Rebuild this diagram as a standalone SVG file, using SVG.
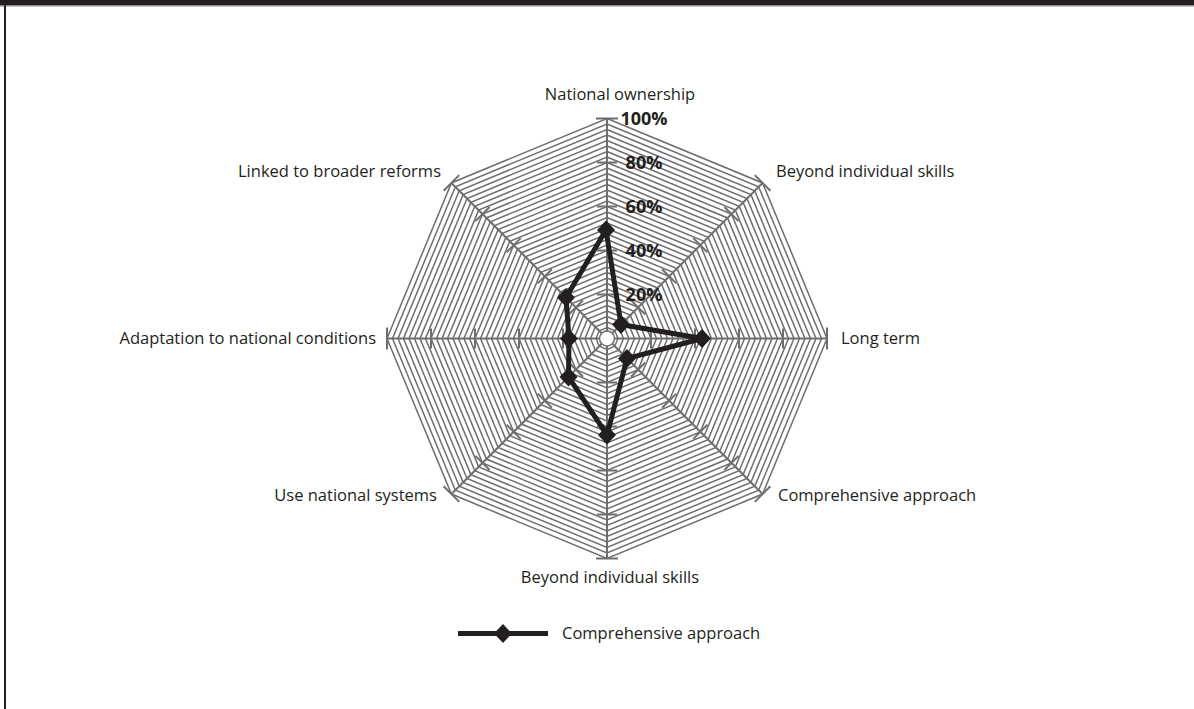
<svg xmlns="http://www.w3.org/2000/svg" xmlns:xlink="http://www.w3.org/1999/xlink" width="1194" height="709" viewBox="0 0 1194 709">
<style>
.ring{fill:none;stroke:#6d6e71;stroke-width:1.5;vector-effect:non-scaling-stroke}
.axis{stroke:#6d6e71;stroke-width:2;fill:none}
.lbl{font-family:"Open Sans","Liberation Sans",sans-serif;font-size:16.5px;fill:#231f20}
.pct{font-family:"Open Sans","Liberation Sans",sans-serif;font-size:18px;font-weight:bold;fill:#231f20;text-anchor:middle}
.data{fill:none;stroke:#231f20;stroke-width:5;stroke-linejoin:miter}
</style>
<defs>
<polygon id="oct" class="ring" points="0,-220 155.56,-155.56 220,0 155.56,155.56 0,220 -155.56,155.56 -220,0 -155.56,-155.56"/>
<g id="ax">
<line class="axis" x1="0" y1="-7.5" x2="0" y2="-220"/>
<line class="axis" x1="-10" y1="-44" x2="10" y2="-44"/>
<line class="axis" x1="-10" y1="-88" x2="10" y2="-88"/>
<line class="axis" x1="-10" y1="-132" x2="10" y2="-132"/>
<line class="axis" x1="-10" y1="-176" x2="10" y2="-176"/>
<line class="axis" x1="-11" y1="-220" x2="11" y2="-220"/>
</g>
<path id="dia" d="M0,-9.5 L9,0 L0,9.5 L-9,0Z" fill="#231f20"/>
</defs>
<rect width="1194" height="709" fill="#ffffff"/>
<rect x="0" y="0" width="1194" height="5.5" fill="#231f20"/>
<rect x="0" y="5.5" width="1194" height="1" fill="#8a8a8c"/>
<rect x="4" y="0" width="2" height="709" fill="#231f20"/>

<g id="grid" transform="translate(607,338.5)">
<use href="#oct" transform="scale(0.025)"/><use href="#oct" transform="scale(0.05)"/><use href="#oct" transform="scale(0.075)"/><use href="#oct" transform="scale(0.1)"/>
<use href="#oct" transform="scale(0.125)"/><use href="#oct" transform="scale(0.15)"/><use href="#oct" transform="scale(0.175)"/><use href="#oct" transform="scale(0.2)"/>
<use href="#oct" transform="scale(0.225)"/><use href="#oct" transform="scale(0.25)"/><use href="#oct" transform="scale(0.275)"/><use href="#oct" transform="scale(0.3)"/>
<use href="#oct" transform="scale(0.325)"/><use href="#oct" transform="scale(0.35)"/><use href="#oct" transform="scale(0.375)"/><use href="#oct" transform="scale(0.4)"/>
<use href="#oct" transform="scale(0.425)"/><use href="#oct" transform="scale(0.45)"/><use href="#oct" transform="scale(0.475)"/><use href="#oct" transform="scale(0.5)"/>
<use href="#oct" transform="scale(0.525)"/><use href="#oct" transform="scale(0.55)"/><use href="#oct" transform="scale(0.575)"/><use href="#oct" transform="scale(0.6)"/>
<use href="#oct" transform="scale(0.625)"/><use href="#oct" transform="scale(0.65)"/><use href="#oct" transform="scale(0.675)"/><use href="#oct" transform="scale(0.7)"/>
<use href="#oct" transform="scale(0.725)"/><use href="#oct" transform="scale(0.75)"/><use href="#oct" transform="scale(0.775)"/><use href="#oct" transform="scale(0.8)"/>
<use href="#oct" transform="scale(0.825)"/><use href="#oct" transform="scale(0.85)"/><use href="#oct" transform="scale(0.875)"/><use href="#oct" transform="scale(0.9)"/>
<use href="#oct" transform="scale(0.925)"/><use href="#oct" transform="scale(0.95)"/><use href="#oct" transform="scale(0.975)"/><use href="#oct" transform="scale(1)"/>
<circle cx="0" cy="0" r="7.5" fill="#ffffff" stroke="#6d6e71" stroke-width="1.5"/>
<use href="#ax"/>
<use href="#ax" transform="rotate(45)"/>
<use href="#ax" transform="rotate(90)"/>
<use href="#ax" transform="rotate(135)"/>
<use href="#ax" transform="rotate(180)"/>
<use href="#ax" transform="rotate(225)"/>
<use href="#ax" transform="rotate(270)"/>
<use href="#ax" transform="rotate(315)"/>
</g>

<g id="scale">
<text class="pct" x="644" y="125">100%</text>
<text class="pct" x="644" y="169">80%</text>
<text class="pct" x="644" y="213">60%</text>
<text class="pct" x="644" y="257">40%</text>
<text class="pct" x="644" y="301">20%</text>
</g>

<g id="connectors">
<polygon class="data" points="606,230 621,324.5 702,338.5 627,358.5 607,435 568.5,377 569,338.5 566,297.5"/>
</g>
<g id="markers">
<use href="#dia" x="606" y="230"/>
<use href="#dia" x="621" y="324.5"/>
<use href="#dia" x="702" y="338.5"/>
<use href="#dia" x="627" y="358.5"/>
<use href="#dia" x="607" y="435"/>
<use href="#dia" x="568.5" y="377"/>
<use href="#dia" x="569" y="338.5"/>
<use href="#dia" x="566" y="297.5"/>
</g>

<g id="node-national-ownership"><text class="lbl" x="620" y="100" text-anchor="middle">National ownership</text></g>
<g id="node-beyond-ne"><text class="lbl" x="776" y="177">Beyond individual skills</text></g>
<g id="node-long-term"><text class="lbl" x="841" y="344">Long term</text></g>
<g id="node-comprehensive"><text class="lbl" x="778" y="501">Comprehensive approach</text></g>
<g id="node-beyond-s"><text class="lbl" x="610" y="583" text-anchor="middle">Beyond individual skills</text></g>
<g id="node-use-national"><text class="lbl" x="437" y="501" text-anchor="end">Use national systems</text></g>
<g id="node-adaptation"><text class="lbl" x="376" y="344" text-anchor="end">Adaptation to national conditions</text></g>
<g id="node-linked"><text class="lbl" x="441" y="177" text-anchor="end">Linked to broader reforms</text></g>

<g id="legend">
<line x1="458" y1="633.5" x2="548" y2="633.5" stroke="#231f20" stroke-width="5"/>
<use href="#dia" x="503" y="633.5"/>
<text class="lbl" x="562" y="639">Comprehensive approach</text>
</g>
</svg>
